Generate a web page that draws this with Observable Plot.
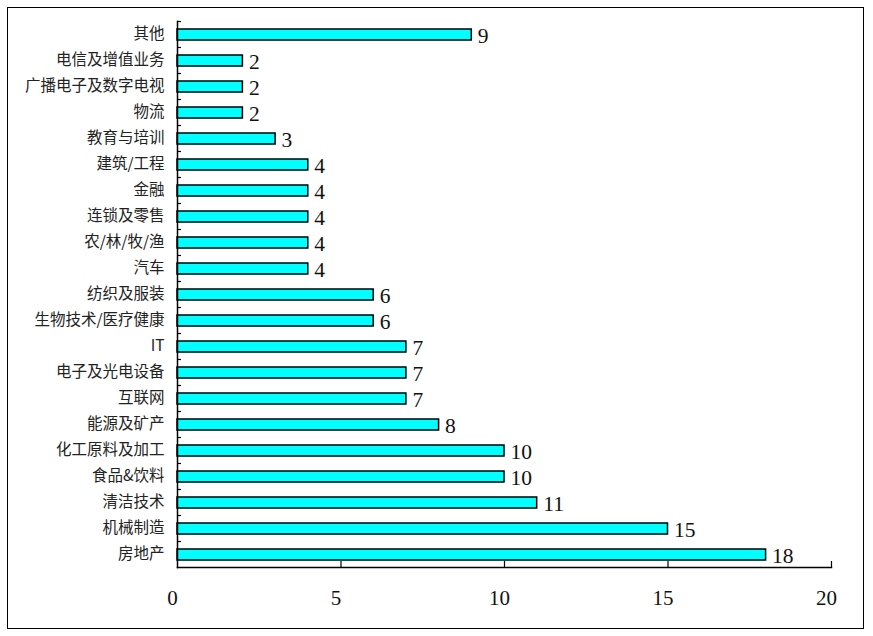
<!DOCTYPE html>
<html>
<head>
<meta charset="utf-8">
<script src="https://cdn.jsdelivr.net/npm/d3@7"></script>
<script src="https://cdn.jsdelivr.net/npm/@observablehq/plot@0.6"></script>
<style>
  html, body { margin: 0; padding: 0; background: #fff; }
  #wrap { position: relative; width: 873px; height: 636px; }
  #border { position: absolute; left: 7px; top: 7px; width: 857px; height: 622px; box-sizing: border-box; border: 1.5px solid #000; pointer-events: none; }
  #chart svg { display: block; }
</style>
</head>
<body>
<div id="wrap"><div id="chart"></div><div id="border"></div></div>
<script>
const categories = ["其他", "电信及增值业务", "广播电子及数字电视", "物流", "教育与培训", "建筑/工程", "金融", "连锁及零售", "农/林/牧/渔", "汽车", "纺织及服装", "生物技术/医疗健康", "IT", "电子及光电设备", "互联网", "能源及矿产", "化工原料及加工", "食品&饮料", "清洁技术", "机械制造", "房地产"];
const values = [9, 2, 2, 2, 3, 4, 4, 4, 4, 4, 6, 6, 7, 7, 7, 8, 10, 10, 11, 15, 18];
const xTicks = [0, 5, 10, 15, 20];

const data = categories.map((name, i) => ({name, value: values[i]}));

const W = 873, H = 636;
const mL = 177, mR = 42, mT = 21, mB = 69;
const plotW = W - mL - mR, plotH = H - mT - mB;
const step = plotH / categories.length;

const chart = Plot.plot({
  width: W,
  height: H,
  marginLeft: mL,
  marginRight: mR,
  marginTop: mT,
  marginBottom: mB,
  x: {domain: [0, 20]},
  y: {domain: categories, padding: 0},
  marks: [
    Plot.barX(data, {x: "value", y: "name", fill: "#00FFFF", stroke: "#000", strokeWidth: 1.5, insetTop: 8, insetBottom: 7}),
    Plot.text(data, {x: "value", y: "name", text: d => String(d.value), dx: 6, dy: 2, textAnchor: "start", fontSize: 21.5, fontFamily: "Liberation Serif", fill: "#111"}),
    Plot.tickY(categories, {y: d => d, dy: -step / 2, insetRight: plotW - 4, stroke: "#000", strokeWidth: 1.2}),
    Plot.tickX(xTicks.slice(1), {x: d => d, insetTop: plotH - 6, stroke: "#000", strokeWidth: 1.2}),
    Plot.frame({anchor: "left", stroke: "#000", strokeWidth: 1.5}),
    Plot.frame({anchor: "bottom", stroke: "#000", strokeWidth: 1.5}),
    Plot.axisY({tickSize: 0, tickPadding: 13, fontSize: 15.5, fontFamily: "Noto Sans CJK SC", fill: "#222", label: null}),
    Plot.axisX({ticks: xTicks, tickSize: 0, tickPadding: 23, dx: -5, fontSize: 21, fontFamily: "Liberation Serif", fill: "#111", label: null, tickFormat: d => String(d)})
  ]
});
document.getElementById("chart").appendChild(chart);
</script>
</body>
</html>
